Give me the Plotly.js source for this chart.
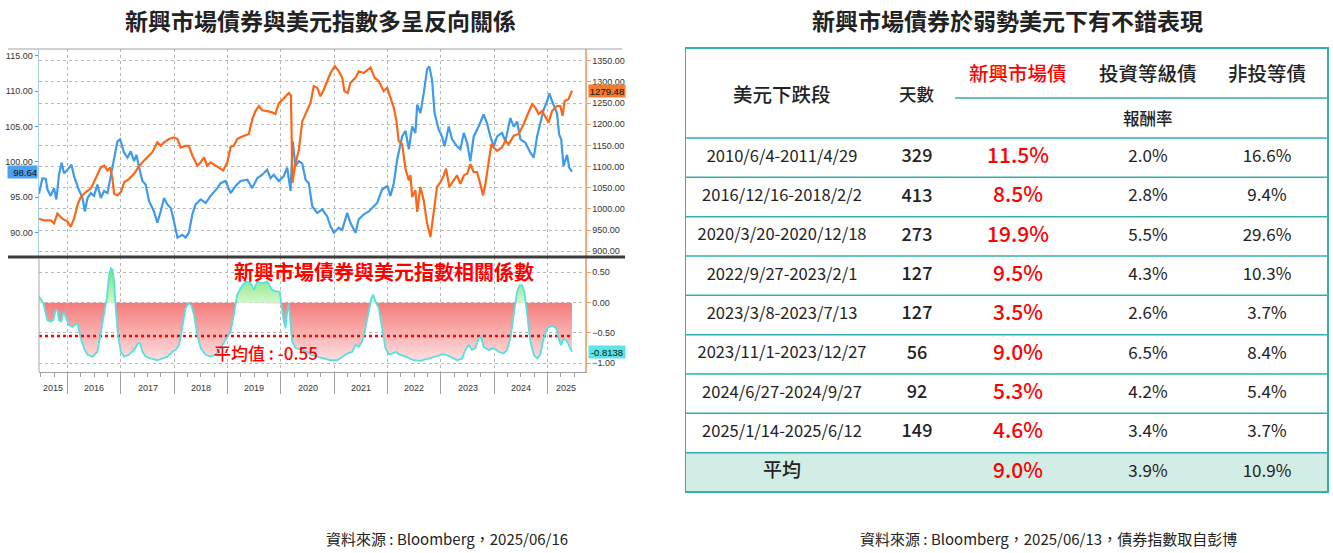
<!DOCTYPE html>
<html><head><meta charset="utf-8">
<script src="https://cdn.plot.ly/plotly-3.0.1.min.js"></script>
<style>html,body{margin:0;padding:0;background:#fff;}#chart{width:1333px;height:553px;}</style>
</head><body><div id="chart"></div>
<script>
// ---------------- DATA ----------------
const yearLabels = [2015,2016,2017,2018,2019,2020,2021,2022,2023,2024,2025];

const usdDates = ["2015-06-20","2015-07-13","2015-08-05","2015-08-17","2015-09-08","2015-10-01","2015-10-17","2015-11-04","2015-11-22","2015-12-08",
"2016-01-01","2016-01-28","2016-02-15","2016-03-14","2016-04-13","2016-04-29","2016-05-17","2016-06-09","2016-07-01","2016-07-24","2016-08-16","2016-09-08","2016-10-01","2016-10-24","2016-11-15","2016-12-08","2016-12-26",
"2017-01-23","2017-02-15","2017-03-09","2017-04-01","2017-04-17","2017-05-05","2017-05-28","2017-06-19","2017-07-12","2017-08-15","2017-09-07","2017-09-30","2017-10-23","2017-11-15","2017-12-08","2017-12-30",
"2018-01-23","2018-02-26","2018-03-20","2018-04-11","2018-05-05","2018-05-27","2018-07-01","2018-08-04","2018-09-07","2018-10-23","2018-11-14","2018-12-18",
"2019-01-22","2019-02-25","2019-03-31","2019-05-16","2019-06-19","2019-07-23","2019-08-26","2019-09-29","2019-10-22","2019-11-13","2019-12-17",
"2020-01-21","2020-02-13","2020-03-07","2020-03-22","2020-04-10","2020-05-03","2020-05-26","2020-06-18","2020-07-10","2020-08-03","2020-09-06","2020-10-10","2020-11-13","2020-12-06","2020-12-29",
"2021-02-01","2021-02-24","2021-03-30","2021-04-21","2021-05-26","2021-06-17","2021-07-22","2021-08-25","2021-09-28","2021-10-21","2021-11-24","2021-12-29",
"2022-01-20","2022-02-12","2022-03-07","2022-04-10","2022-05-03","2022-05-26","2022-06-18","2022-07-10","2022-07-22","2022-08-13","2022-09-05","2022-09-28","2022-10-13","2022-11-01","2022-11-18","2022-12-16",
"2023-01-08","2023-01-26","2023-02-23","2023-03-18","2023-04-21","2023-05-14","2023-06-06","2023-06-29","2023-07-21","2023-08-13","2023-09-16","2023-10-20","2023-11-12","2023-12-05","2023-12-28",
"2024-01-20","2024-02-23","2024-03-17","2024-04-20","2024-05-13","2024-06-05","2024-06-28","2024-08-01","2024-09-04","2024-09-27","2024-10-20","2024-11-11","2024-12-04","2024-12-28",
"2025-01-12","2025-01-30","2025-02-17","2025-03-05","2025-03-20","2025-04-03","2025-04-19","2025-05-13","2025-05-28","2025-06-16"];
const usdValues = [95.5,97.7,97.6,96.1,95.2,96.3,94.7,98.2,99.9,98.4,
98.9,99.6,98.0,96.3,94.9,93.0,94.9,95.6,95.2,96.8,94.9,95.9,95.6,98.2,100.6,102.9,103.2,
101.3,100.6,101.5,100.1,101.0,99.2,97.3,96.8,94.5,93.0,91.4,93.0,94.9,94.0,93.5,91.6,
89.3,89.7,89.3,90.0,92.6,94.0,94.7,94.2,95.2,96.3,97.0,97.3,
95.6,96.6,97.3,97.5,96.3,97.7,98.2,98.9,97.7,98.2,97.3,
98.0,99.2,95.9,102.9,99.4,100.1,99.8,97.5,97.0,93.7,92.8,93.3,92.3,90.9,90.0,
90.7,90.4,92.8,91.4,90.0,91.9,92.6,93.0,93.7,94.2,96.1,96.6,
95.2,97.0,100.3,103.6,104.4,101.8,105.0,104.1,108.1,106.9,109.7,113.1,113.5,111.6,106.9,104.6,
103.6,102.2,105.0,103.2,102.2,101.8,104.1,102.7,100.1,103.6,105.0,106.7,105.5,103.6,102.2,
103.6,104.1,102.9,106.2,105.0,105.7,103.2,102.7,101.3,100.6,103.6,105.5,107.4,108.6,
109.7,108.6,107.6,106.9,103.9,103.2,99.4,101.0,99.2,98.64];

const emDates = ["2015-06-20","2015-07-24","2015-09-08","2015-10-01","2015-10-24","2015-11-27",
"2016-01-01","2016-01-23","2016-02-15","2016-03-09","2016-04-01","2016-05-05","2016-06-09","2016-07-01","2016-07-24","2016-08-16","2016-09-08","2016-10-01","2016-10-19","2016-11-04","2016-11-15","2016-12-08",
"2017-01-01","2017-01-23","2017-02-26","2017-04-01","2017-04-24","2017-05-28","2017-07-01","2017-08-04","2017-09-07","2017-09-30","2017-10-23","2017-11-26","2017-12-30",
"2018-01-23","2018-02-14","2018-03-20","2018-04-11","2018-05-05","2018-06-08","2018-07-01","2018-07-23","2018-08-15","2018-09-07","2018-10-11","2018-11-14","2018-12-02","2018-12-30",
"2019-01-22","2019-02-13","2019-03-08","2019-03-31","2019-05-04","2019-05-27","2019-06-19","2019-07-11","2019-08-03","2019-08-26","2019-09-29","2019-11-02","2019-11-24","2019-12-17",
"2020-01-21","2020-02-24","2020-03-10","2020-03-20","2020-04-10","2020-05-03","2020-05-26","2020-06-18","2020-07-22","2020-08-13","2020-09-06","2020-09-28","2020-10-21","2020-11-13","2020-12-06",
"2021-01-04","2021-02-01","2021-02-24","2021-03-11","2021-04-03","2021-04-21","2021-05-26","2021-06-17","2021-07-22","2021-09-06","2021-10-03","2021-11-01","2021-12-05","2021-12-29",
"2022-01-20","2022-02-12","2022-03-02","2022-03-17","2022-04-10","2022-05-03","2022-05-26","2022-06-06","2022-06-18","2022-07-10","2022-07-22","2022-08-13","2022-09-05","2022-09-28","2022-10-21","2022-11-12","2022-12-05","2022-12-28",
"2023-01-20","2023-02-05","2023-02-27","2023-03-28","2023-04-21","2023-05-14","2023-06-06","2023-06-29","2023-07-21","2023-08-13","2023-09-05","2023-09-27","2023-10-16","2023-11-01","2023-11-23","2023-12-12","2023-12-28",
"2024-01-20","2024-02-23","2024-03-17","2024-04-09","2024-05-13","2024-06-16","2024-07-20","2024-08-12","2024-09-16","2024-10-08","2024-10-31","2024-11-23","2024-12-16",
"2025-01-07","2025-01-30","2025-03-05","2025-03-28","2025-04-13","2025-04-26","2025-05-23","2025-06-16"];
const emValues = [977,973,973,966,989,977,
970,958,977,1009,1028,1040,1048,1063,1079,1098,1102,1091,1098,1071,1036,1032,
1040,1063,1071,1083,1095,1110,1122,1134,1157,1149,1157,1165,1169,
1165,1145,1149,1149,1126,1102,1110,1122,1102,1110,1102,1095,1091,1110,
1147,1149,1165,1169,1173,1177,1212,1231,1243,1233,1231,1228,1224,1249,
1261,1274,1268,1061,1108,1139,1206,1224,1251,1290,1286,1266,1282,1302,1321,
1337,1325,1310,1278,1274,1298,1310,1325,1321,1334,1310,1302,1278,1286,
1263,1239,1208,1161,1153,1095,1067,1080,1028,1044,993,1052,1020,966,934,997,1052,1063,
1079,1095,1052,1067,1079,1059,1079,1083,1106,1087,1087,1059,1032,1059,1106,1153,1145,
1137,1145,1161,1153,1173,1177,1200,1220,1247,1239,1224,1231,1216,
1204,1231,1243,1243,1220,1255,1259,1279.48];

const corrDates = ["2015-06-20","2015-07-06","2015-07-20","2015-08-05","2015-08-17","2015-09-08","2015-09-26","2015-10-12","2015-10-24","2015-11-04","2015-11-20","2015-12-04","2015-12-20",
"2016-01-12","2016-02-04","2016-02-26","2016-03-09","2016-04-01","2016-04-23","2016-05-17","2016-06-20","2016-07-24","2016-08-16","2016-09-08","2016-09-26","2016-10-12","2016-10-24","2016-11-06","2016-11-15","2016-11-26","2016-12-12","2016-12-31",
"2017-01-23","2017-02-26","2017-04-01","2017-04-28","2017-05-12","2017-05-28","2017-06-19","2017-07-23","2017-09-07","2017-10-12","2017-11-15","2017-12-19",
"2018-01-11","2018-02-03","2018-02-26","2018-03-20","2018-04-11","2018-04-27","2018-05-16","2018-06-08","2018-07-01","2018-08-04","2018-09-07","2018-10-11","2018-11-14","2018-12-18",
"2019-01-22","2019-02-13","2019-03-08","2019-03-31","2019-05-04","2019-06-08","2019-06-30","2019-07-23","2019-08-26","2019-09-29","2019-11-02","2019-11-24","2019-12-24",
"2020-01-03","2020-01-21","2020-02-02","2020-02-13","2020-02-24","2020-03-07","2020-03-18","2020-04-10","2020-05-14","2020-06-29","2020-07-22","2020-09-28","2020-12-06",
"2021-01-21","2021-02-24","2021-03-30","2021-05-04","2021-05-26","2021-06-17","2021-07-10","2021-08-02","2021-08-25","2021-09-10","2021-09-24","2021-10-09","2021-11-01","2021-11-24","2021-12-17",
"2022-01-09","2022-02-01","2022-02-28","2022-03-17","2022-05-03","2022-06-28","2022-08-13","2022-09-28","2022-11-12","2022-12-28",
"2023-01-20","2023-03-06","2023-04-21","2023-05-26","2023-06-17","2023-07-10","2023-08-02","2023-08-24","2023-09-16","2023-10-02","2023-10-20","2023-11-23","2023-12-28",
"2024-01-30","2024-03-05","2024-03-28","2024-04-20","2024-05-13","2024-06-05","2024-06-23","2024-07-09","2024-07-25","2024-08-12","2024-09-04","2024-09-27","2024-10-20","2024-11-11","2024-12-04","2024-12-28",
"2025-01-30","2025-02-28","2025-03-16","2025-04-02","2025-04-20","2025-05-13","2025-06-04","2025-06-16"];
const corrValues = [0.10,0.04,-0.01,-0.18,-0.29,-0.31,-0.29,-0.12,-0.12,-0.29,-0.31,-0.15,-0.23,
-0.37,-0.40,-0.37,-0.34,-0.59,-0.75,-0.86,-0.89,-0.81,-0.48,-0.20,0.07,0.46,0.57,0.54,0.35,-0.09,-0.53,-0.81,
-0.89,-0.86,-0.78,-0.67,-0.67,-0.81,-0.89,-0.92,-0.95,-0.92,-0.89,-0.81,
-0.78,-0.70,-0.37,-0.09,-0.01,-0.04,-0.20,-0.53,-0.75,-0.86,-0.89,-0.86,-0.75,-0.62,
-0.48,-0.20,0.13,0.24,0.35,0.32,0.21,0.35,0.32,0.35,0.21,0.19,0.18,
-0.01,-0.31,-0.42,-0.15,-0.01,-0.31,-0.64,-0.75,-0.78,-0.81,-0.86,-0.90,-0.95,
-0.95,-0.89,-0.84,-0.81,-0.70,-0.73,-0.64,-0.42,-0.15,0.07,0.13,0.02,-0.09,-0.42,-0.75,
-0.85,-0.84,-0.81,-0.85,-0.89,-0.95,-0.96,-0.93,-0.89,-0.86,
-0.85,-0.89,-0.95,-0.92,-0.78,-0.70,-0.78,-0.75,-0.59,-0.56,-0.73,-0.78,-0.75,
-0.81,-0.84,-0.78,-0.59,-0.20,0.18,0.29,0.29,0.18,-0.20,-0.64,-0.86,-0.92,-0.86,-0.59,-0.42,
-0.38,-0.42,-0.59,-0.70,-0.59,-0.64,-0.75,-0.8138];
const avgCorr = -0.55;

const usdTicks = [90,95,100,105,110,115];
const emTicks = [900,950,1000,1050,1100,1150,1200,1250,1300,1350];
const corrTicks = [-1,-0.5,0,0.5];

const leftTitle = "新興市場債券與美元指數多呈反向關係";
const rightTitle = "新興市場債券於弱勢美元下有不錯表現";
const corrLabel = "新興市場債券與美元指數相關係數";
const avgLabelPrefix = "平均值 : ";
const leftSource = "資料來源 : Bloomberg，2025/06/16";
const rightSource = "資料來源 : Bloomberg，2025/06/13，債券指數取自彭博";

const tableHeader = ["美元下跌段","天數","新興市場債","投資等級債","非投等債"];
const returnHeader = "報酬率";
const periods = ["2010/6/4-2011/4/29","2016/12/16-2018/2/2","2020/3/20-2020/12/18","2022/9/27-2023/2/1","2023/3/8-2023/7/13","2023/11/1-2023/12/27","2024/6/27-2024/9/27","2025/1/14-2025/6/12"];
const days = [329,413,273,127,127,56,92,149];
const emReturn = [11.5,8.5,19.9,9.5,3.5,9.0,5.3,4.6];
const igReturn = [2.0,2.8,5.5,4.3,2.6,6.5,4.2,3.4];
const hyReturn = [16.6,9.4,29.6,10.3,3.7,8.4,5.4,3.7];
const avgRowLabel = "平均";
const avgReturn = [9.0,3.9,10.9];

// ---------------- LAYOUT GEOMETRY ----------------
const W = 1333, H = 553;
const px = x => x / W, py = y => 1 - y / H;
const CJK = "'Noto Sans CJK TC', 'Noto Sans', sans-serif";
const LAT = "'Liberation Sans', Arial, sans-serif";
const BLUE = "#3f9be9", ORANGE = "#fb6717", CYAN = "#55e0e2", TEAL = "#35afad", RED = "#ff0000";
const xRange = ["2015-06-20", "2025-09-13"];
const yearStarts = yearLabels.slice(1).map(y => y + "-01-01");
const pct = v => v.toFixed(1) + "%";

function splitAtZero(xs, ys) {
  const nx = [], ny = [], qx = [], qy = [];
  for (let i = 0; i < ys.length; i++) {
    if (i > 0) {
      const a = ys[i-1], b = ys[i];
      if ((a < 0 && b > 0) || (a > 0 && b < 0)) {
        const t0 = Date.parse(xs[i-1]), t1 = Date.parse(xs[i]);
        const tz = new Date(t0 + (t1 - t0) * (-a) / (b - a)).toISOString().replace("T", " ").slice(0, 19);
        nx.push(tz); ny.push(0); qx.push(tz); qy.push(0);
      }
    }
    nx.push(xs[i]); ny.push(Math.min(ys[i], 0));
    qx.push(xs[i]); qy.push(Math.max(ys[i], 0));
  }
  return {nx, ny, qx, qy};
}
const parts = splitAtZero(corrDates, corrValues);

const HEAD_H = 91, ROW_H = 39.33, TBL_W = 643, TBL_H = 445;
const colX = [97, 232, 333, 463, 582];
const rowY = i => HEAD_H + ROW_H * (i + 0.5);
const dataRows = periods.map((_, i) => rowY(i));
const avgY = rowY(periods.length);

const traces = [
  {x: parts.nx, y: parts.ny, xaxis: "x2", yaxis: "y3", type: "scatter", mode: "lines", fill: "tozeroy",
   line: {width: 0}, fillcolor: "rgba(245,140,140,0.8)",
   fillgradient: {type: "vertical", start: -1.0, stop: 0, colorscale: [[0, "#ffe4e4"], [1, "#f47b7b"]]},
   hoverinfo: "skip", showlegend: false},
  {x: parts.qx, y: parts.qy, xaxis: "x2", yaxis: "y3", type: "scatter", mode: "lines", fill: "tozeroy",
   line: {width: 0}, fillcolor: "rgba(130,230,120,0.8)",
   fillgradient: {type: "vertical", start: 0, stop: 0.6, colorscale: [[0, "#d2f7cb"], [1, "#6fe065"]]},
   hoverinfo: "skip", showlegend: false},
  {x: [corrDates[0], corrDates[corrDates.length - 1]], y: [avgCorr, avgCorr], xaxis: "x2", yaxis: "y3",
   type: "scatter", mode: "lines", line: {color: RED, width: 2.5, dash: "dot"}, hoverinfo: "skip", showlegend: false},
  {x: corrDates, y: corrValues, xaxis: "x2", yaxis: "y3", type: "scatter", mode: "lines",
   line: {color: CYAN, width: 1.8}, hoverinfo: "skip", showlegend: false},
  {x: emDates, y: emValues, xaxis: "x", yaxis: "y2", type: "scatter", mode: "lines",
   line: {color: ORANGE, width: 2.2}, hoverinfo: "skip", showlegend: false},
  {x: usdDates, y: usdValues, xaxis: "x", yaxis: "y", type: "scatter", mode: "lines",
   line: {color: BLUE, width: 2.2}, hoverinfo: "skip", showlegend: false},
  {x: periods.map(() => colX[0]).concat([colX[0]]), y: dataRows.concat([avgY]), text: periods.concat([avgRowLabel]),
   xaxis: "x3", yaxis: "y4", type: "scatter", mode: "text", cliponaxis: false,
   textfont: {family: CJK, size: periods.map(() => 16.5).concat([19]), color: "#222", weight: periods.map(() => 400).concat([500])}, hoverinfo: "skip", showlegend: false},
  {x: days.map(() => colX[1]), y: dataRows, text: days.map(String),
   xaxis: "x3", yaxis: "y4", type: "scatter", mode: "text", cliponaxis: false,
   textfont: {family: CJK, size: 18, color: "#222", weight: 500}, hoverinfo: "skip", showlegend: false},
  {x: emReturn.map(() => colX[2]).concat([colX[2]]), y: dataRows.concat([avgY]), text: emReturn.map(pct).concat([pct(avgReturn[0])]),
   xaxis: "x3", yaxis: "y4", type: "scatter", mode: "text", cliponaxis: false,
   textfont: {family: CJK, size: 21, color: RED, weight: 500}, hoverinfo: "skip", showlegend: false},
  {x: igReturn.map(() => colX[3]).concat([colX[3]]), y: dataRows.concat([avgY]), text: igReturn.map(pct).concat([pct(avgReturn[1])]),
   xaxis: "x3", yaxis: "y4", type: "scatter", mode: "text", cliponaxis: false,
   textfont: {family: CJK, size: 17, color: "#222"}, hoverinfo: "skip", showlegend: false},
  {x: hyReturn.map(() => colX[4]).concat([colX[4]]), y: dataRows.concat([avgY]), text: hyReturn.map(pct).concat([pct(avgReturn[2])]),
   xaxis: "x3", yaxis: "y4", type: "scatter", mode: "text", cliponaxis: false,
   textfont: {family: CJK, size: 17, color: "#222"}, hoverinfo: "skip", showlegend: false}
];

const tickFont = {family: LAT, size: 9, color: "#333"};
const xDomain = [px(39), px(585)];
const headFont = (size, color) => ({family: CJK, size: size, color: color, weight: 500});

const annotations = [
  {text: leftTitle, x: px(320), y: py(20), xref: "paper", yref: "paper", showarrow: false, xanchor: "center", yanchor: "middle",
   font: {family: CJK, size: 23, color: "#222", weight: "bold"}},
  {text: rightTitle, x: px(1007), y: py(20), xref: "paper", yref: "paper", showarrow: false, xanchor: "center", yanchor: "middle",
   font: {family: CJK, size: 23, color: "#222", weight: "bold"}},
  {text: leftSource, x: px(447), y: py(538), xref: "paper", yref: "paper", showarrow: false, xanchor: "center", yanchor: "middle",
   font: {family: CJK, size: 15, color: "#222"}},
  {text: rightSource, x: px(1048), y: py(538), xref: "paper", yref: "paper", showarrow: false, xanchor: "center", yanchor: "middle",
   font: {family: CJK, size: 15, color: "#222"}},
  {text: corrLabel, x: px(232), y: py(271), xref: "paper", yref: "paper", showarrow: false, xanchor: "left", yanchor: "middle",
   font: {family: CJK, size: 20, color: RED, weight: "bold"}},
  {text: avgLabelPrefix + avgCorr.toFixed(2), x: px(212), y: py(352), xref: "paper", yref: "paper", showarrow: false, xanchor: "left", yanchor: "middle",
   font: {family: CJK, size: 17, color: RED, weight: 500}},
  {text: usdValues[usdValues.length - 1].toFixed(2), x: px(38), y: usdValues[usdValues.length - 1], xref: "paper", yref: "y",
   showarrow: false, xanchor: "right", yanchor: "middle", bgcolor: "#4d9ff0", borderpad: 0, width: 29, height: 12, align: "right",
   font: {family: LAT, size: 9.5, color: "#111"}},
  {text: emValues[emValues.length - 1].toFixed(2), x: px(588), y: emValues[emValues.length - 1], xref: "paper", yref: "y2",
   showarrow: false, xanchor: "left", yanchor: "middle", bgcolor: "#f47a2c", borderpad: 0, width: 36, height: 12,
   font: {family: LAT, size: 9.5, color: "#111"}},
  {text: corrValues[corrValues.length - 1].toFixed(4), x: px(588), y: corrValues[corrValues.length - 1], xref: "paper", yref: "y3",
   showarrow: false, xanchor: "left", yanchor: "middle", bgcolor: "#5ae4e6", borderpad: 0, width: 36, height: 12,
   font: {family: LAT, size: 9.5, color: "#111"}},
  {text: tableHeader[0], x: colX[0], y: 47, xref: "x3", yref: "y4", showarrow: false, font: headFont(19.5, "#222")},
  {text: tableHeader[1], x: colX[1], y: 47, xref: "x3", yref: "y4", showarrow: false, font: headFont(17.5, "#222")},
  {text: tableHeader[2], x: colX[2], y: 26, xref: "x3", yref: "y4", showarrow: false, font: headFont(19.5, RED)},
  {text: tableHeader[3], x: colX[3], y: 26, xref: "x3", yref: "y4", showarrow: false, font: headFont(19.5, "#222")},
  {text: tableHeader[4], x: colX[4], y: 26, xref: "x3", yref: "y4", showarrow: false, font: headFont(19.5, "#222")},
  {text: returnHeader, x: colX[3], y: 71, xref: "x3", yref: "y4", showarrow: false, font: headFont(16.5, "#222")}
];
const r0 = Date.parse(xRange[0]), r1 = Date.parse(xRange[1]);
yearLabels.forEach(y => {
  const a = Math.max(Date.parse(y + "-01-01"), r0), b = Math.min(Date.parse((y + 1) + "-01-01"), r1);
  annotations.push({text: String(y), x: new Date((a + b) / 2).toISOString().slice(0, 10), y: py(388),
    xref: "x2", yref: "paper", showarrow: false, xanchor: "center", yanchor: "middle", font: {family: LAT, size: 9, color: "#333"}});
});

const shapes = [
  {type: "rect", xref: "x3", yref: "y4", x0: 0, x1: TBL_W, y0: HEAD_H + ROW_H * periods.length, y1: TBL_H,
   fillcolor: "#d2ece6", line: {width: 0}, layer: "below"},
  {type: "line", xref: "x3", yref: "y4", x0: 270, x1: TBL_W, y0: 51, y1: 51, line: {color: TEAL, width: 1.5}},
  {type: "rect", xref: "x3", yref: "y4", x0: 0, x1: TBL_W, y0: 1, y1: TBL_H, line: {color: TEAL, width: 2}},
  {type: "line", xref: "paper", yref: "paper", x0: px(8), x1: px(622), y0: py(49), y1: py(49), line: {color: "#a0a0a0", width: 1}},
  {type: "line", xref: "paper", yref: "paper", x0: px(8), x1: px(625), y0: py(257), y1: py(257), line: {color: "#3c3c3c", width: 3}},
  {type: "line", xref: "paper", yref: "paper", x0: px(39), x1: px(39), y0: py(258), y1: py(372), line: {color: "#a8a8a8", width: 1}}
];
for (let i = 0; i < periods.length + 1; i++) {
  const yy = HEAD_H + ROW_H * i;
  shapes.push({type: "line", xref: "x3", yref: "y4", x0: 0, x1: TBL_W, y0: yy, y1: yy, line: {color: TEAL, width: 1.5}});
}

const layout = {
  width: W, height: H, margin: {l: 0, r: 0, t: 0, b: 0}, paper_bgcolor: "#fff", plot_bgcolor: "rgba(0,0,0,0)",
  showlegend: false,
  xaxis: {domain: xDomain, anchor: "y", type: "date", range: xRange, tickmode: "array", tickvals: yearStarts,
    showticklabels: false, ticks: "", showgrid: true, gridcolor: "#b8b8b8", griddash: "dot", gridwidth: 1,
    showline: false, zeroline: false, fixedrange: true},
  xaxis2: {domain: xDomain, anchor: "y3", type: "date", range: xRange, matches: "x", tickmode: "array", tickvals: yearStarts,
    showticklabels: false, ticks: "outside", ticklen: 21, tickcolor: "#a0a0a0", tickwidth: 1,
    showgrid: true, gridcolor: "#b8b8b8", griddash: "dot", gridwidth: 1, showline: true, linecolor: "#a0a0a0", linewidth: 1,
    zeroline: false, fixedrange: true,
    minor: {tickmode: "linear", tick0: "2015-01-01", dtick: "M3", ticks: "outside", ticklen: 4, tickcolor: "#a0a0a0", showgrid: false}},
  yaxis: {domain: [py(257), py(49)], anchor: "x", range: [86.57, 115.95], tickmode: "array", tickvals: usdTicks, tickformat: ".2f",
    ticks: "outside", ticklen: 3, tickcolor: BLUE, showline: true, linecolor: "#a6cff2", linewidth: 1.5,
    showgrid: false, zeroline: false, tickfont: tickFont, fixedrange: true},
  yaxis2: {overlaying: "y", side: "right", anchor: "x", range: [886.5, 1377.6], tickmode: "array", tickvals: emTicks, tickformat: ".2f",
    ticks: "outside", ticklen: 4, tickcolor: "#f5a066", showline: true, linecolor: "#f6ad80", linewidth: 1.5,
    showgrid: true, gridcolor: "#b8b8b8", griddash: "dot", gridwidth: 1, zeroline: false, tickfont: tickFont, fixedrange: true},
  yaxis3: {domain: [py(372), py(257)], anchor: "x2", side: "right", range: [-1.144, 0.753], tickmode: "array", tickvals: corrTicks, tickformat: ".2f",
    ticks: "outside", ticklen: 4, tickcolor: "#f5a066", showline: true, linecolor: "#f6ad80", linewidth: 1.5,
    showgrid: true, gridcolor: "#b8b8b8", griddash: "dot", gridwidth: 1, zeroline: false, tickfont: tickFont, fixedrange: true},
  xaxis3: {domain: [px(685), px(685 + 644)], anchor: "y4", range: [0, 644], visible: false, fixedrange: true},
  yaxis4: {domain: [py(47 + 446), py(47)], anchor: "x3", range: [446, 0], visible: false, fixedrange: true},
  annotations: annotations,
  shapes: shapes
};

Plotly.newPlot("chart", traces, layout, {displayModeBar: false, staticPlot: true});
</script></body></html>
